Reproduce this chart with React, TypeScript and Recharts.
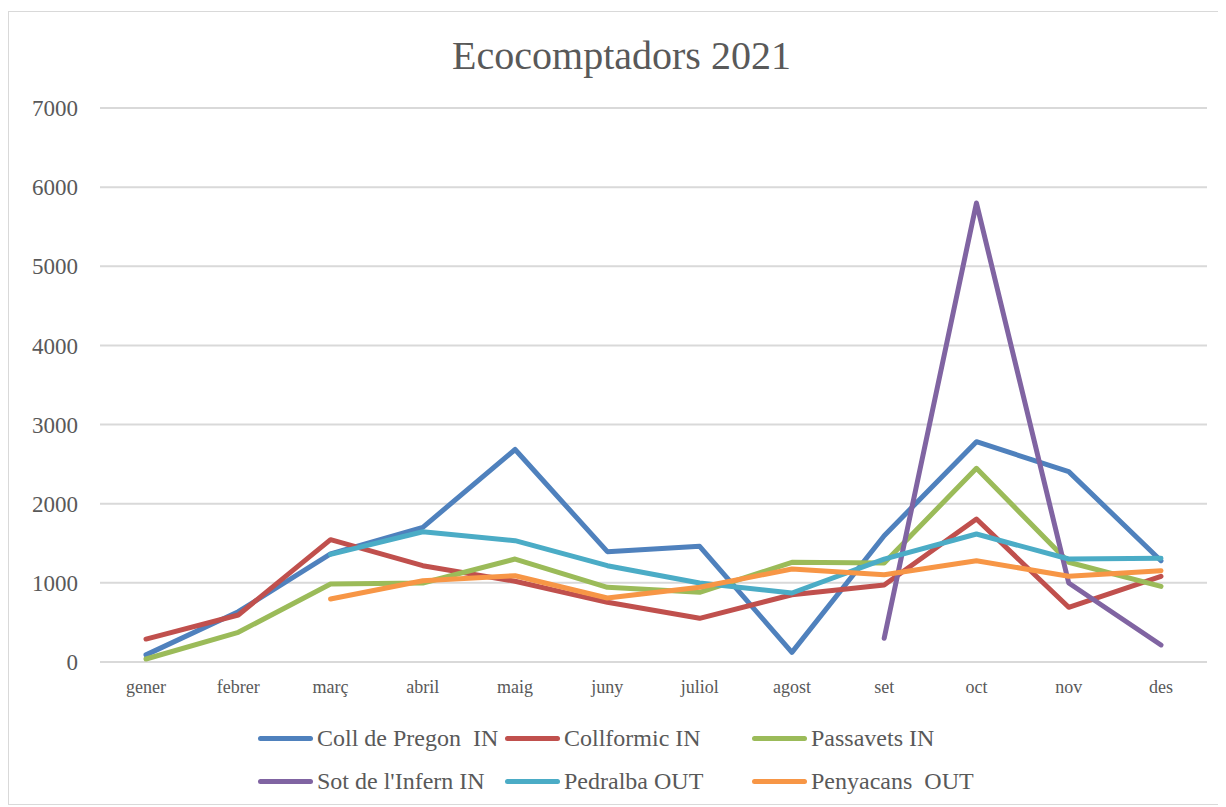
import { LineChart, Line, XAxis, YAxis, CartesianGrid, Legend } from 'recharts'

const months = ['gener', 'febrer', 'març', 'abril', 'maig', 'juny', 'juliol', 'agost', 'set', 'oct', 'nov', 'des']

const collDePregon = [90, 636, 1365, 1702, 2685, 1394, 1462, 122, 1596, 2784, 2405, 1280]
const collformic = [290, 594, 1546, 1217, 1020, 754, 552, 850, 973, 1807, 691, 1083]
const passavets = [38, 375, 986, 998, 1301, 944, 880, 1260, 1251, 2447, 1260, 956]
const sotInfern = [null, null, null, null, null, null, null, null, 299, 5800, 998, 215]
const pedralba = [null, null, 1360, 1646, 1533, 1217, 998, 872, 1300, 1617, 1301, 1310]
const penyacans = [null, null, 796, 1027, 1090, 809, 944, 1175, 1103, 1280, 1083, 1154]

const yTicks = [0, 1000, 2000, 3000, 4000, 5000, 6000, 7000]

const series = [
  { key: 'coll', name: 'Coll de Pregon  IN', color: '#4f81bd', values: collDePregon },
  { key: 'collformic', name: 'Collformic IN', color: '#c0504d', values: collformic },
  { key: 'passavets', name: 'Passavets IN', color: '#9bbb59', values: passavets },
  { key: 'sot', name: "Sot de l'Infern IN", color: '#8064a2', values: sotInfern },
  { key: 'pedralba', name: 'Pedralba OUT', color: '#4bacc6', values: pedralba },
  { key: 'penyacans', name: 'Penyacans  OUT', color: '#f79646', values: penyacans },
]

const data = months.map((m, i) => {
  const row: Record<string, string | number | null> = { month: m }
  series.forEach((s) => {
    row[s.key] = s.values[i]
  })
  return row
})

const FONT = "'Liberation Serif', serif"
const TEXT = '#595959'

function LegendGrid() {
  const colX = [249, 496, 743]
  const rowY = [46, 89]
  return (
    <div style={{ position: 'relative', width: 1210, height: 100 }}>
      {series.map((s, i) => (
        <div
          key={s.key}
          style={{
            position: 'absolute',
            left: colX[i % 3],
            top: rowY[Math.floor(i / 3)] - 14,
            height: 28,
            display: 'flex',
            alignItems: 'center',
            whiteSpace: 'pre',
          }}
        >
          <span
            style={{
              display: 'inline-block',
              width: 55,
              height: 5,
              borderRadius: 3,
              background: s.color,
              marginRight: 4,
            }}
          />
          <span style={{ fontFamily: FONT, fontSize: 24, color: TEXT }}>{s.name}</span>
        </div>
      ))}
    </div>
  )
}

export default function App() {
  return (
    <div
      style={{
        width: 1211,
        height: 792,
        border: '1px solid #d9d9d9',
        marginTop: 3,
        position: 'relative',
        background: '#fff',
      }}
    >
      <div
        style={{
          position: 'absolute',
          top: 20,
          left: 7,
          width: 1211,
          textAlign: 'center',
          fontFamily: FONT,
          fontSize: 40,
          color: TEXT,
        }}
      >
        Ecocomptadors 2021
      </div>
      <LineChart width={1211} height={790} data={data} margin={{ top: 96, right: 13, bottom: 10, left: 31 }}>
        <CartesianGrid vertical={false} stroke="#d9d9d9" strokeWidth={2} />
        <XAxis
          dataKey="month"
          axisLine={false}
          tickLine={false}
          tickSize={0}
          tickMargin={18}
          height={30}
          padding={{ left: 46, right: 46 }}
          tick={{ fontSize: 18, fill: TEXT, fontFamily: FONT }}
          interval={0}
        />
        <YAxis
          width={60}
          domain={[0, 7000]}
          ticks={yTicks}
          axisLine={false}
          tickLine={false}
          tickSize={0}
          tickMargin={22}
          tick={{ fontSize: 23, fill: TEXT, fontFamily: FONT }}
        />
        <Legend verticalAlign="bottom" wrapperStyle={{ left: 0, width: 1211 }} content={<LegendGrid />} />
        {series.map((s) => (
          <Line
            key={s.key}
            dataKey={s.key}
            name={s.name}
            stroke={s.color}
            strokeWidth={5}
            dot={false}
            activeDot={false}
            isAnimationActive={false}
            strokeLinejoin="round"
            strokeLinecap="round"
          />
        ))}
      </LineChart>
    </div>
  )
}
